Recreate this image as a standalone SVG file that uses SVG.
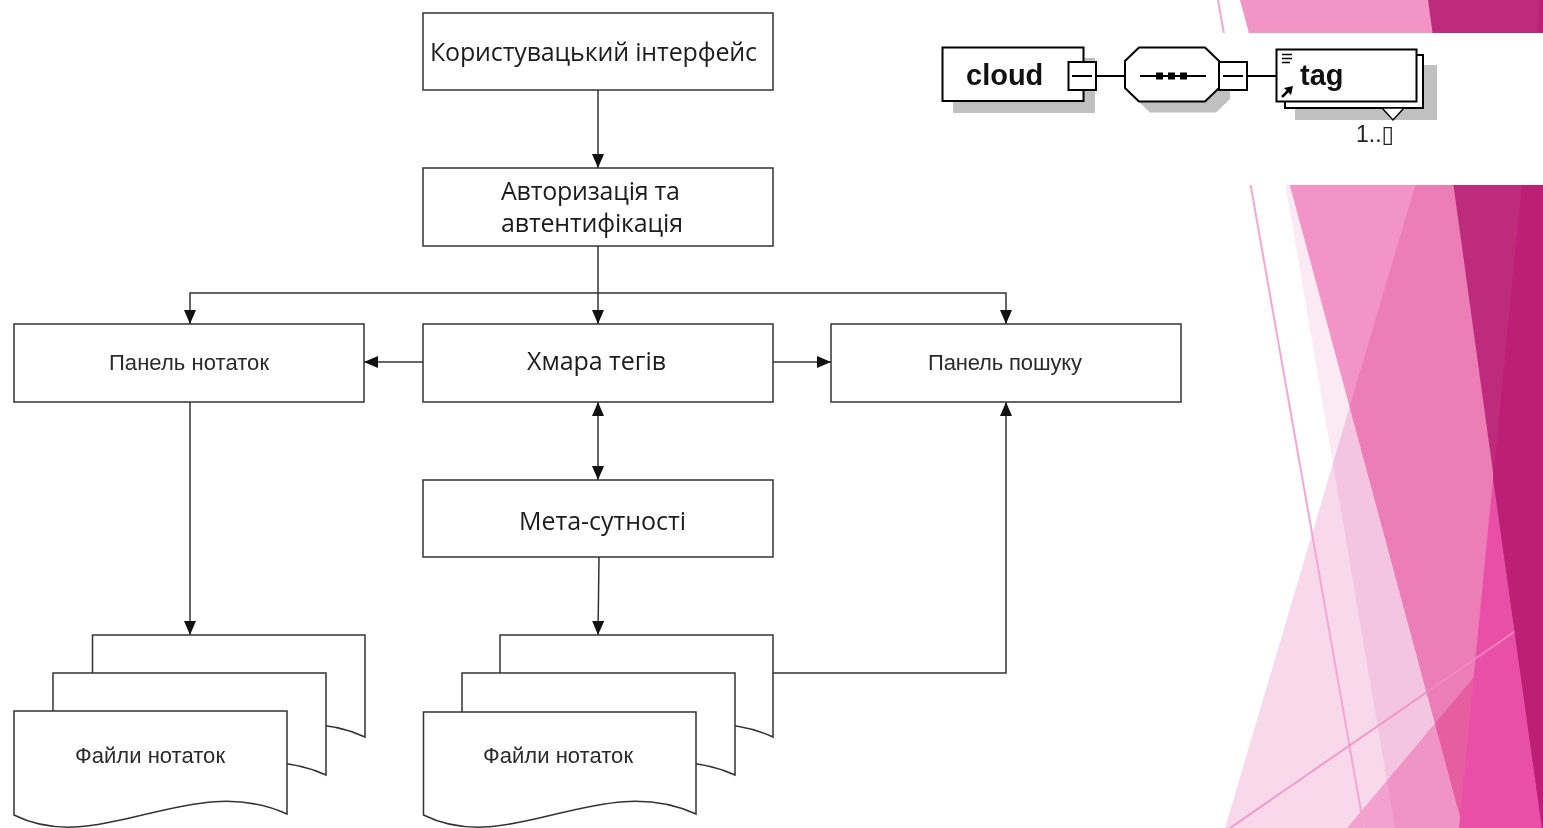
<svg xmlns="http://www.w3.org/2000/svg" width="1543" height="828" viewBox="0 0 1543 828">
<style>
.box{fill:#fff;stroke:#333;stroke-width:1.5}
.ln{fill:none;stroke:#333;stroke-width:1.5}
.cal{font-family:"Open Sans","Liberation Sans",sans-serif;font-size:25px;fill:#1c1c1c;text-anchor:middle}
.ari{font-family:"Liberation Sans",Arial,sans-serif;font-size:22px;fill:#2a2a2a;text-anchor:middle}
.xb{fill:#fff;stroke:#000;stroke-width:2}
.xl{fill:none;stroke:#000;stroke-width:2}
.sh{fill:#c0c0c0}
.xt{font-family:"Liberation Sans",Arial,sans-serif;font-weight:bold;font-size:29px;fill:#111}
.mul{mix-blend-mode:multiply}
</style>
<defs>
<marker id="ah" markerWidth="14" markerHeight="12" refX="14" refY="6" orient="auto-start-reverse" markerUnits="userSpaceOnUse">
<path d="M0,0 L14,6 L0,12 Z" fill="#111"/>
</marker>
</defs>
<rect x="0" y="0" width="1543" height="828" fill="#fff"/>
<g id="decor">
<polygon points="1254,0 1543,0 1543,828 1395,828" fill="#fbe9f3"/>
<polygon points="1240,0 1543,0 1543,828 1463,828" fill="#f394c6"/>
<polygon class="mul" points="1470,0 1543,0 1543,828 1225,828" fill="#f8d8eb"/>
<polygon class="mul" points="1347,828 1543,595 1543,828" fill="#fac0e1"/>
<line x1="1218" y1="0" x2="1364" y2="828" stroke="#f7a6d0" stroke-width="2"/>
<polygon points="1493,479 1542,828 1459,828" fill="#e94fa6"/>
<line x1="1230" y1="828" x2="1543" y2="612" stroke="#f08cc4" stroke-width="2" opacity="0.8"/>
<polygon points="1428,0 1543,0 1543,828 1542,828" fill="#be2a7c"/>
<polygon points="1540,0 1543,0 1543,828 1542,828 1493,479" fill="#bc1f76"/>
<rect x="1190" y="33" width="353" height="152" fill="#fff"/>
</g>
<g id="xsd">
<g id="xsd-cloud">
<rect class="sh" x="953" y="58" width="142" height="55"/>
<rect class="xb" x="942.5" y="47.5" width="141" height="53.5"/>
<text class="xt" x="966" y="85">cloud</text>
<rect class="xb" x="1068.5" y="62" width="27.5" height="28"/>
<line class="xl" x1="1072" y1="76" x2="1092" y2="76"/>
</g>
<line class="xl" x1="1096" y1="76" x2="1125" y2="76"/>
<g id="xsd-sequence">
<polygon class="sh" points="1150,58 1216,58 1230,72 1230,99 1216,112.5 1150,112.5 1136,99 1136,72"/>
<polygon class="xb" points="1139,47.5 1205,47.5 1219,61 1219,88 1205,101.5 1139,101.5 1125,88 1125,61"/>
<line class="xl" x1="1140" y1="76" x2="1206" y2="76"/>
<rect x="1156" y="72.5" width="7" height="7" fill="#000"/>
<rect x="1168" y="72.5" width="7" height="7" fill="#000"/>
<rect x="1180" y="72.5" width="7" height="7" fill="#000"/>
<rect class="xb" x="1219" y="62" width="28" height="28"/>
<line class="xl" x1="1223" y1="76" x2="1243" y2="76"/>
</g>
<line class="xl" x1="1247" y1="76" x2="1276" y2="76"/>
<g id="xsd-tag">
<rect class="sh" x="1295" y="65" width="142" height="55"/>
<rect class="xb" x="1285" y="55" width="138" height="53"/>
<rect class="xb" x="1276.5" y="49.5" width="140" height="52"/>
<polygon points="1382,108 1404,108 1393,120" fill="#fff" stroke="#000" stroke-width="1.5"/>
<line x1="1282" y1="54.5" x2="1292" y2="54.5" stroke="#000" stroke-width="1.5"/>
<line x1="1282" y1="58.5" x2="1292" y2="58.5" stroke="#000" stroke-width="1.5"/>
<line x1="1282" y1="62.5" x2="1290" y2="62.5" stroke="#000" stroke-width="1.5"/>
<line x1="1282" y1="97" x2="1289" y2="90" stroke="#000" stroke-width="2.5"/>
<polygon points="1293,86 1284,88 1291,95" fill="#000"/>
<text class="xt" x="1300" y="85">tag</text>
<text x="1356" y="142" font-family="'Liberation Sans','DejaVu Sans',sans-serif" font-size="23" fill="#222">1..▯</text>
</g>
</g>
<g id="connectors">
<line class="ln" x1="598" y1="90" x2="598" y2="168" marker-end="url(#ah)"/>
<line class="ln" x1="598" y1="246" x2="598" y2="324" marker-end="url(#ah)"/>
<path class="ln" d="M598,293 H190 V324" marker-end="url(#ah)"/>
<path class="ln" d="M598,293 H1006 V324" marker-end="url(#ah)"/>
<line class="ln" x1="423" y1="362" x2="364" y2="362" marker-end="url(#ah)"/>
<line class="ln" x1="773" y1="362" x2="831" y2="362" marker-end="url(#ah)"/>
<line class="ln" x1="598" y1="402" x2="598" y2="480" marker-start="url(#ah)" marker-end="url(#ah)"/>
<line class="ln" x1="190" y1="402" x2="190" y2="635" marker-end="url(#ah)"/>
<line class="ln" x1="599" y1="557" x2="598" y2="635" marker-end="url(#ah)"/>
<path class="ln" d="M773,673 H1006 V402" marker-end="url(#ah)"/>
</g>
<g id="n-ui">
<rect class="box" x="423" y="13" width="350" height="77"/>
<text class="cal" x="593.5" y="61" textLength="327">Користувацький інтерфейс</text>
</g>
<g id="n-auth">
<rect class="box" x="423" y="168" width="350" height="78"/>
<text class="cal" x="590.5" y="200" textLength="179">Авторизація та</text>
<text class="cal" x="592" y="232" textLength="182">автентифікація</text>
</g>
<g id="n-notes-panel">
<rect class="box" x="14" y="324" width="350" height="78"/>
<text class="ari" x="189" y="370" textLength="160">Панель нотаток</text>
</g>
<g id="n-tagcloud">
<rect class="box" x="423" y="324" width="350" height="78"/>
<text class="cal" x="596.5" y="370" textLength="139">Хмара тегів</text>
</g>
<g id="n-search-panel">
<rect class="box" x="831" y="324" width="350" height="78"/>
<text class="ari" x="1005" y="370" textLength="154">Панель пошуку</text>
</g>
<g id="n-meta">
<rect class="box" x="423" y="480" width="350" height="77"/>
<text class="cal" x="602.5" y="530" textLength="167">Мета-сутності</text>
</g>
<g id="n-files-left">
<path class="box" d="M92.5,635 H365 V737 C268.5,693 178.5,781 92.5,738 Z"/>
<path class="box" d="M53,673 H326 V775 C229,731 139,819 53,776 Z"/>
<path class="box" d="M14,711 H287 V814 C190,770 100,858 14,815 Z"/>
<text class="ari" x="150" y="763" textLength="150">Файли нотаток</text>
</g>
<g id="n-files-mid">
<path class="box" d="M500,635 H773 V737 C676,693 586,781 500,738 Z"/>
<path class="box" d="M462,673 H735 V775 C638,731 548,819 462,776 Z"/>
<path class="box" d="M423.5,712 H696 V814 C599.5,770 509.5,858 423.5,815 Z"/>
<text class="ari" x="558" y="763" textLength="150">Файли нотаток</text>
</g>
</svg>
